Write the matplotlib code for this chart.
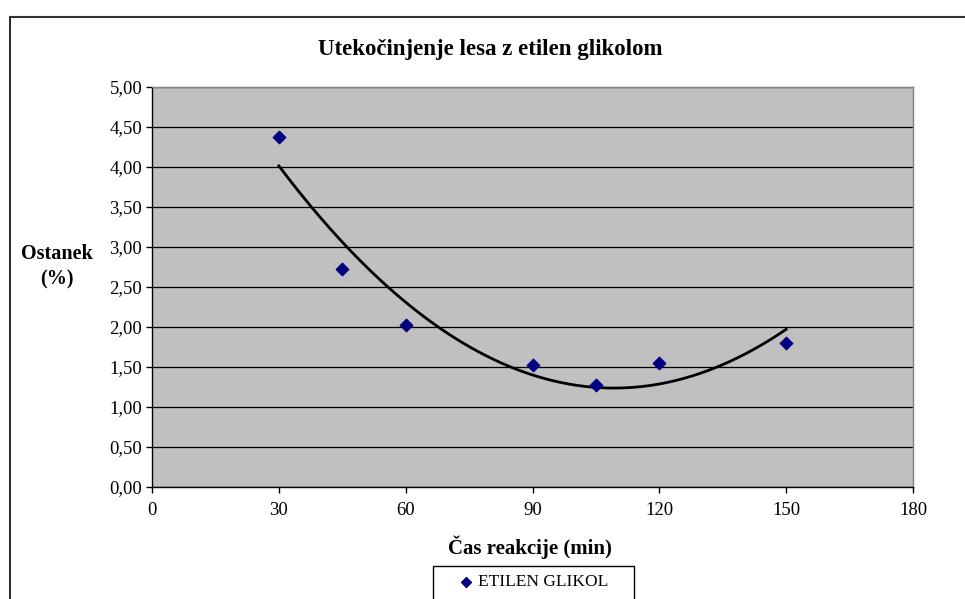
import numpy as np
import matplotlib
matplotlib.use("Agg")
import matplotlib.pyplot as plt
from matplotlib.lines import Line2D
from matplotlib.patches import Rectangle
from matplotlib.ticker import FuncFormatter

# Reaction time (min) and residue (%)
cas = [30, 45, 60, 90, 105, 120, 150]
ostanek = [4.38, 2.72, 2.03, 1.53, 1.28, 1.55, 1.80]
x_ticks = [0, 30, 60, 90, 120, 150, 180]
y_ticks = [0.0, 0.5, 1.0, 1.5, 2.0, 2.5, 3.0, 3.5, 4.0, 4.5, 5.0]

W, H = 965, 599
fig = plt.figure(figsize=(W / 100, H / 100), dpi=100)
plt.rcParams['font.family'] = ['Liberation Serif', 'DejaVu Serif']

# chart area border (top and left edges visible)
fig.add_artist(Line2D([9.5 / W, 9.5 / W], [0, 1 - 16.5 / H], color='black', lw=1.2,
                      transform=fig.transFigure))
fig.add_artist(Line2D([9.5 / W, 1], [1 - 16.5 / H, 1 - 16.5 / H], color='#333333', lw=1.5,
                      transform=fig.transFigure))

left, right, top, bottom = 152, 913, 87, 487
ax = fig.add_axes([left / W, 1 - bottom / H, (right - left) / W, (bottom - top) / H])
ax.set_facecolor('#c0c0c0')
for s in ['left', 'bottom']:
    ax.spines[s].set_color('black')
    ax.spines[s].set_linewidth(1.0)
for s in ['top', 'right']:
    ax.spines[s].set_color('#808080')
    ax.spines[s].set_linewidth(1.0)

ax.set_xlim(0, 180)
ax.set_ylim(0, 5)
ax.set_xticks(x_ticks)
ax.set_yticks(y_ticks)
ax.yaxis.set_major_formatter(FuncFormatter(lambda v, p: f"{v:.2f}".replace('.', ',')))
ax.tick_params(axis='both', direction='out', length=4, width=1, labelsize=13.5, color='black')
ax.tick_params(axis='x', pad=7)
ax.tick_params(axis='y', pad=3)
ax.grid(axis='y', color='black', lw=0.9)
ax.set_axisbelow(True)

# second-order polynomial trendline
coef = np.polyfit(cas, ostanek, 2)
xt = np.linspace(min(cas), max(cas), 200)
ax.plot(xt, np.polyval(coef, xt), color='black', lw=2, zorder=3)

ax.scatter(cas, ostanek, marker='D', s=40, color='#000080', zorder=4,
           label='ETILEN GLIKOL', clip_on=False)

fig.text(490 / W, 1 - 49 / H, 'Utekočinjenje lesa z etilen glikolom',
         ha='center', va='center', fontsize=16.5, fontweight='bold')
fig.text(57 / W, 1 - 267 / H, 'Ostanek\n(%)', ha='center', va='center', fontsize=14.5,
         fontweight='bold', linespacing=1.35)
fig.text(530 / W, 1 - 547 / H, 'Čas reakcije (min)', ha='center', va='center',
         fontsize=15, fontweight='bold')

# legend box (extends past the lower edge)
fig.add_artist(Rectangle((432.5 / W, -0.05), 201 / W, 1 - 565.5 / H + 0.05,
                         transform=fig.transFigure, facecolor='white',
                         edgecolor='black', lw=1.0, zorder=1))
leg = fig.legend(loc='center left', bbox_to_anchor=(457 / W, 1 - 582 / H),
                 frameon=False, fontsize=12.5, handletextpad=0.2, borderpad=0,
                 markerscale=0.8, handlelength=1.0, borderaxespad=0)
leg.set_zorder(2)

fig.savefig('out.png', dpi=100)
